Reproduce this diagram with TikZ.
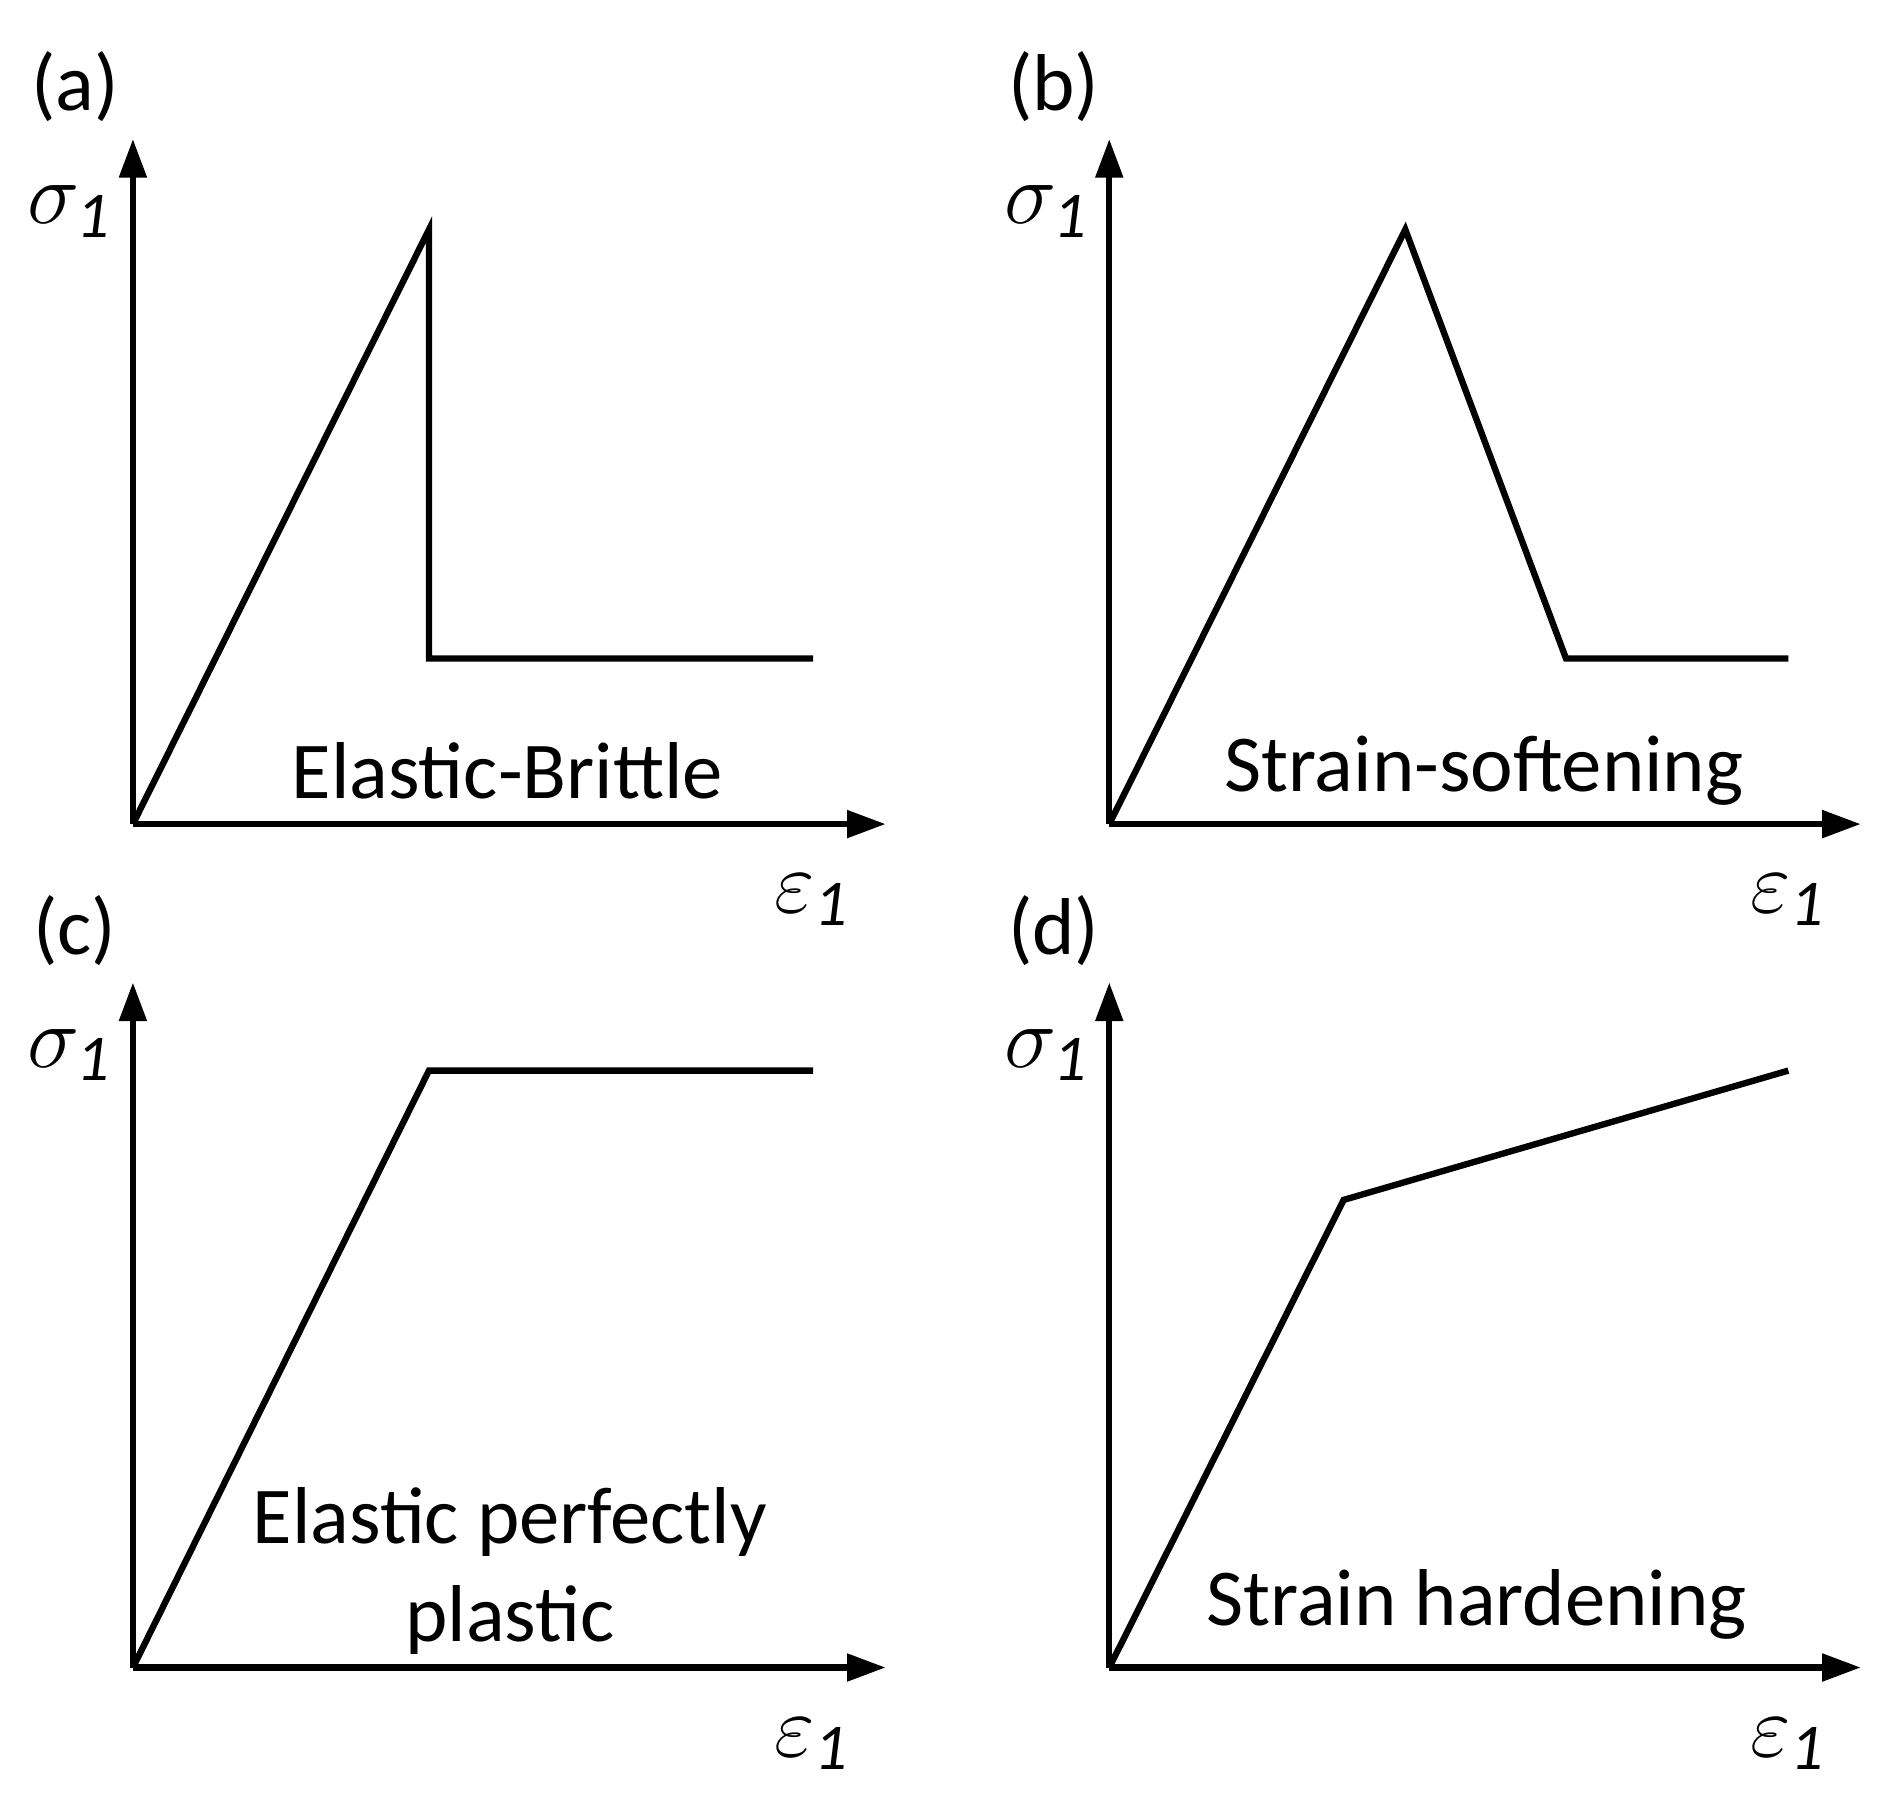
\documentclass[tikz,border=0pt]{standalone}
\usepackage{fontspec}
\setmainfont{Carlito}
\usetikzlibrary{arrows.meta}
\tikzset{
axis/.style={line width=1.5pt, -{Triangle[length=0.32cm, width=0.22cm]}},
curve/.style={line width=1.5pt, line join=miter},
tag/.style={font=\fontsize{19}{22}\selectfont},
law/.style={font=\fontsize{19}{23}\selectfont, align=center},
sym/.style={font=\fontsize{22}{24}\selectfont}
}
\begin{document}
\begin{tikzpicture}
\useasboundingbox (0,0) rectangle (15.6,14.86);
% (a) elastic-brittle
\coordinate (oa) at (1.10,8.04);
\coordinate (ya) at (1.10,13.71);
\coordinate (xa) at (7.33,8.04);
\coordinate (a1) at (3.55,12.96);
\coordinate (a2) at (3.55,9.41);
\coordinate (a3) at (6.73,9.41);
\draw [axis] (oa) -- (ya);
\draw [axis] (oa) -- (xa);
\draw [curve] (oa) -- (a1) -- (a2) -- (a3);
\node (taga) [tag] at (0.62,14.14) {(a)};
\node (siga) [sym] at (0.58,13.11) {$\sigma_{\mathit{1}}$};
\node (epsa) [sym] at (6.72,7.41) {$\varepsilon_{\mathit{1}}$};
\node (lawa) [law] at (4.20,8.48) {Elastic-Brittle};
% (b) strain-softening
\coordinate (ob) at (9.18,8.04);
\coordinate (yb) at (9.18,13.71);
\coordinate (xb) at (15.40,8.04);
\coordinate (b1) at (11.63,12.96);
\coordinate (b2) at (12.96,9.41);
\coordinate (b3) at (14.80,9.41);
\draw [axis] (ob) -- (yb);
\draw [axis] (ob) -- (xb);
\draw [curve] (ob) -- (b1) -- (b2) -- (b3);
\node (tagb) [tag] at (8.72,14.14) {(b)};
\node (sigb) [sym] at (8.66,13.11) {$\sigma_{\mathit{1}}$};
\node (epsb) [sym] at (14.80,7.41) {$\varepsilon_{\mathit{1}}$};
\node (lawb) [law] at (12.28,8.48) {Strain-softening};
% (c) elastic perfectly plastic
\coordinate (oc) at (1.10,1.06);
\coordinate (yc) at (1.10,6.73);
\coordinate (xc) at (7.33,1.06);
\coordinate (c1) at (3.55,6.00);
\coordinate (c2) at (6.73,6.00);
\draw [axis] (oc) -- (yc);
\draw [axis] (oc) -- (xc);
\draw [curve] (oc) -- (c1) -- (c2);
\node (tagc) [tag] at (0.62,7.16) {(c)};
\node (sigc) [sym] at (0.58,6.13) {$\sigma_{\mathit{1}}$};
\node (epsc) [sym] at (6.72,0.43) {$\varepsilon_{\mathit{1}}$};
\node (lawc) [law] at (4.22,1.86) {Elastic perfectly\\plastic};
% (d) strain hardening
\coordinate (od) at (9.18,1.06);
\coordinate (yd) at (9.18,6.73);
\coordinate (xd) at (15.40,1.06);
\coordinate (d1) at (11.12,4.93);
\coordinate (d2) at (14.80,6.00);
\draw [axis] (od) -- (yd);
\draw [axis] (od) -- (xd);
\draw [curve] (od) -- (d1) -- (d2);
\node (tagd) [tag] at (8.72,7.16) {(d)};
\node (sigd) [sym] at (8.66,6.13) {$\sigma_{\mathit{1}}$};
\node (epsd) [sym] at (14.80,0.43) {$\varepsilon_{\mathit{1}}$};
\node (lawd) [law] at (12.22,1.58) {Strain hardening};
\end{tikzpicture}
\end{document}
